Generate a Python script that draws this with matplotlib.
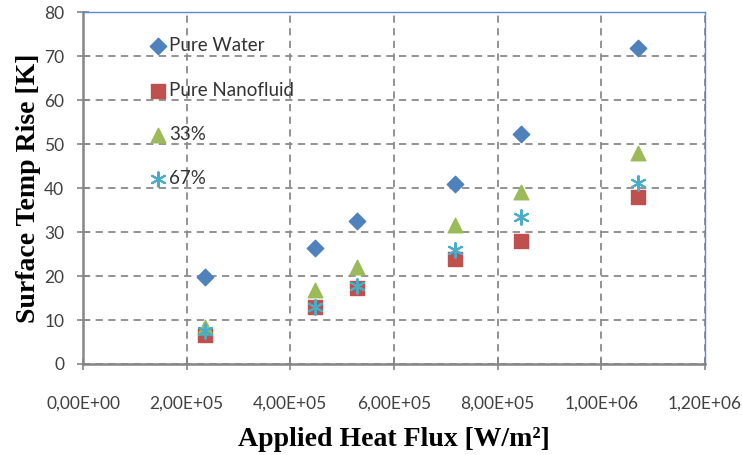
# -*- coding: utf-8 -*-
from matplotlib import pyplot as plt
from matplotlib.ticker import FuncFormatter, MultipleLocator

# donnees :
heat_flux = [2.36e5, 4.47e5, 5.28e5, 7.18e5, 8.46e5, 1.07e6]
pure_water = [19.8, 26.3, 32.5, 40.9, 52.3, 71.8]
pure_nano = [6.6, 13.0, 17.2, 23.9, 28.0, 37.9]
mix_33 = [8.5, 16.8, 22.1, 31.6, 39.0, 47.9]
mix_67 = [7.5, 13.0, 17.7, 25.9, 33.3, 41.1]

labels = ["Pure Water", "Pure Nanofluid", "33%", "67%"]


def sci_comma(v, pos):
    """Format Excel : 2,00E+05"""
    s = "%.2E" % v
    return s.replace(".", ",")


def main():
    fig = plt.figure(figsize=(7.42, 4.55), dpi=100)
    ax = fig.add_axes([0.112, 0.2, 0.838, 0.7736])

    ax.scatter(heat_flux, pure_water, marker="D", s=70, color="#4F81BD",
               label=labels[0], zorder=3)
    ax.scatter(heat_flux, pure_nano, marker="s", s=110, color="#C0504D",
               label=labels[1], zorder=3)
    ax.scatter(heat_flux, mix_33, marker="^", s=110, color="#9BBB59",
               label=labels[2], zorder=4)
    ax.scatter(heat_flux, mix_67, marker=(6, 2, 0), s=110, color="#4BACC6",
               linewidths=1.5, label=labels[3], zorder=5)

    ax.set_xlim(0, 1.2e6)
    ax.set_ylim(0, 80)
    ax.xaxis.set_major_locator(MultipleLocator(2e5))
    ax.yaxis.set_major_locator(MultipleLocator(10))
    ax.xaxis.set_major_formatter(FuncFormatter(sci_comma))

    ax.grid(True, color="#8a8a8a", linestyle=(0, (4, 3)), linewidth=1.3)
    ax.set_axisbelow(True)

    for side in ("left", "bottom"):
        ax.spines[side].set_color("#868686")
        ax.spines[side].set_linewidth(1.8)
    for side in ("top", "right"):
        ax.spines[side].set_color("#5b8ad0")
        ax.spines[side].set_linewidth(1.0)

    ax.tick_params(axis="both", direction="inout", length=9, width=1.2,
                   color="#868686", labelcolor="#404040", labelsize=12.5)
    ax.tick_params(axis="x", pad=18)
    ax.tick_params(axis="y", pad=9)
    for lab in ax.get_xticklabels() + ax.get_yticklabels():
        lab.set_family("Lato")

    ax.set_xlabel("Applied Heat Flux [W/m²]", family="Liberation Serif",
                  fontweight="bold", fontsize=20, labelpad=11)
    ax.set_ylabel("Surface Temp Rise [K]", family="Liberation Serif",
                  fontweight="bold", fontsize=20, labelpad=2)

    leg = ax.legend(loc="upper left", bbox_to_anchor=(0.077, 0.976), frameon=False,
                    labelspacing=1.45, handletextpad=0.05, handlelength=1.1,
                    prop={"family": "Lato", "size": 13.5})
    for t in leg.get_texts():
        t.set_color("#333333")

    fig.savefig("out.png", dpi=100)
    return 0


if __name__ == "__main__":
    main()
